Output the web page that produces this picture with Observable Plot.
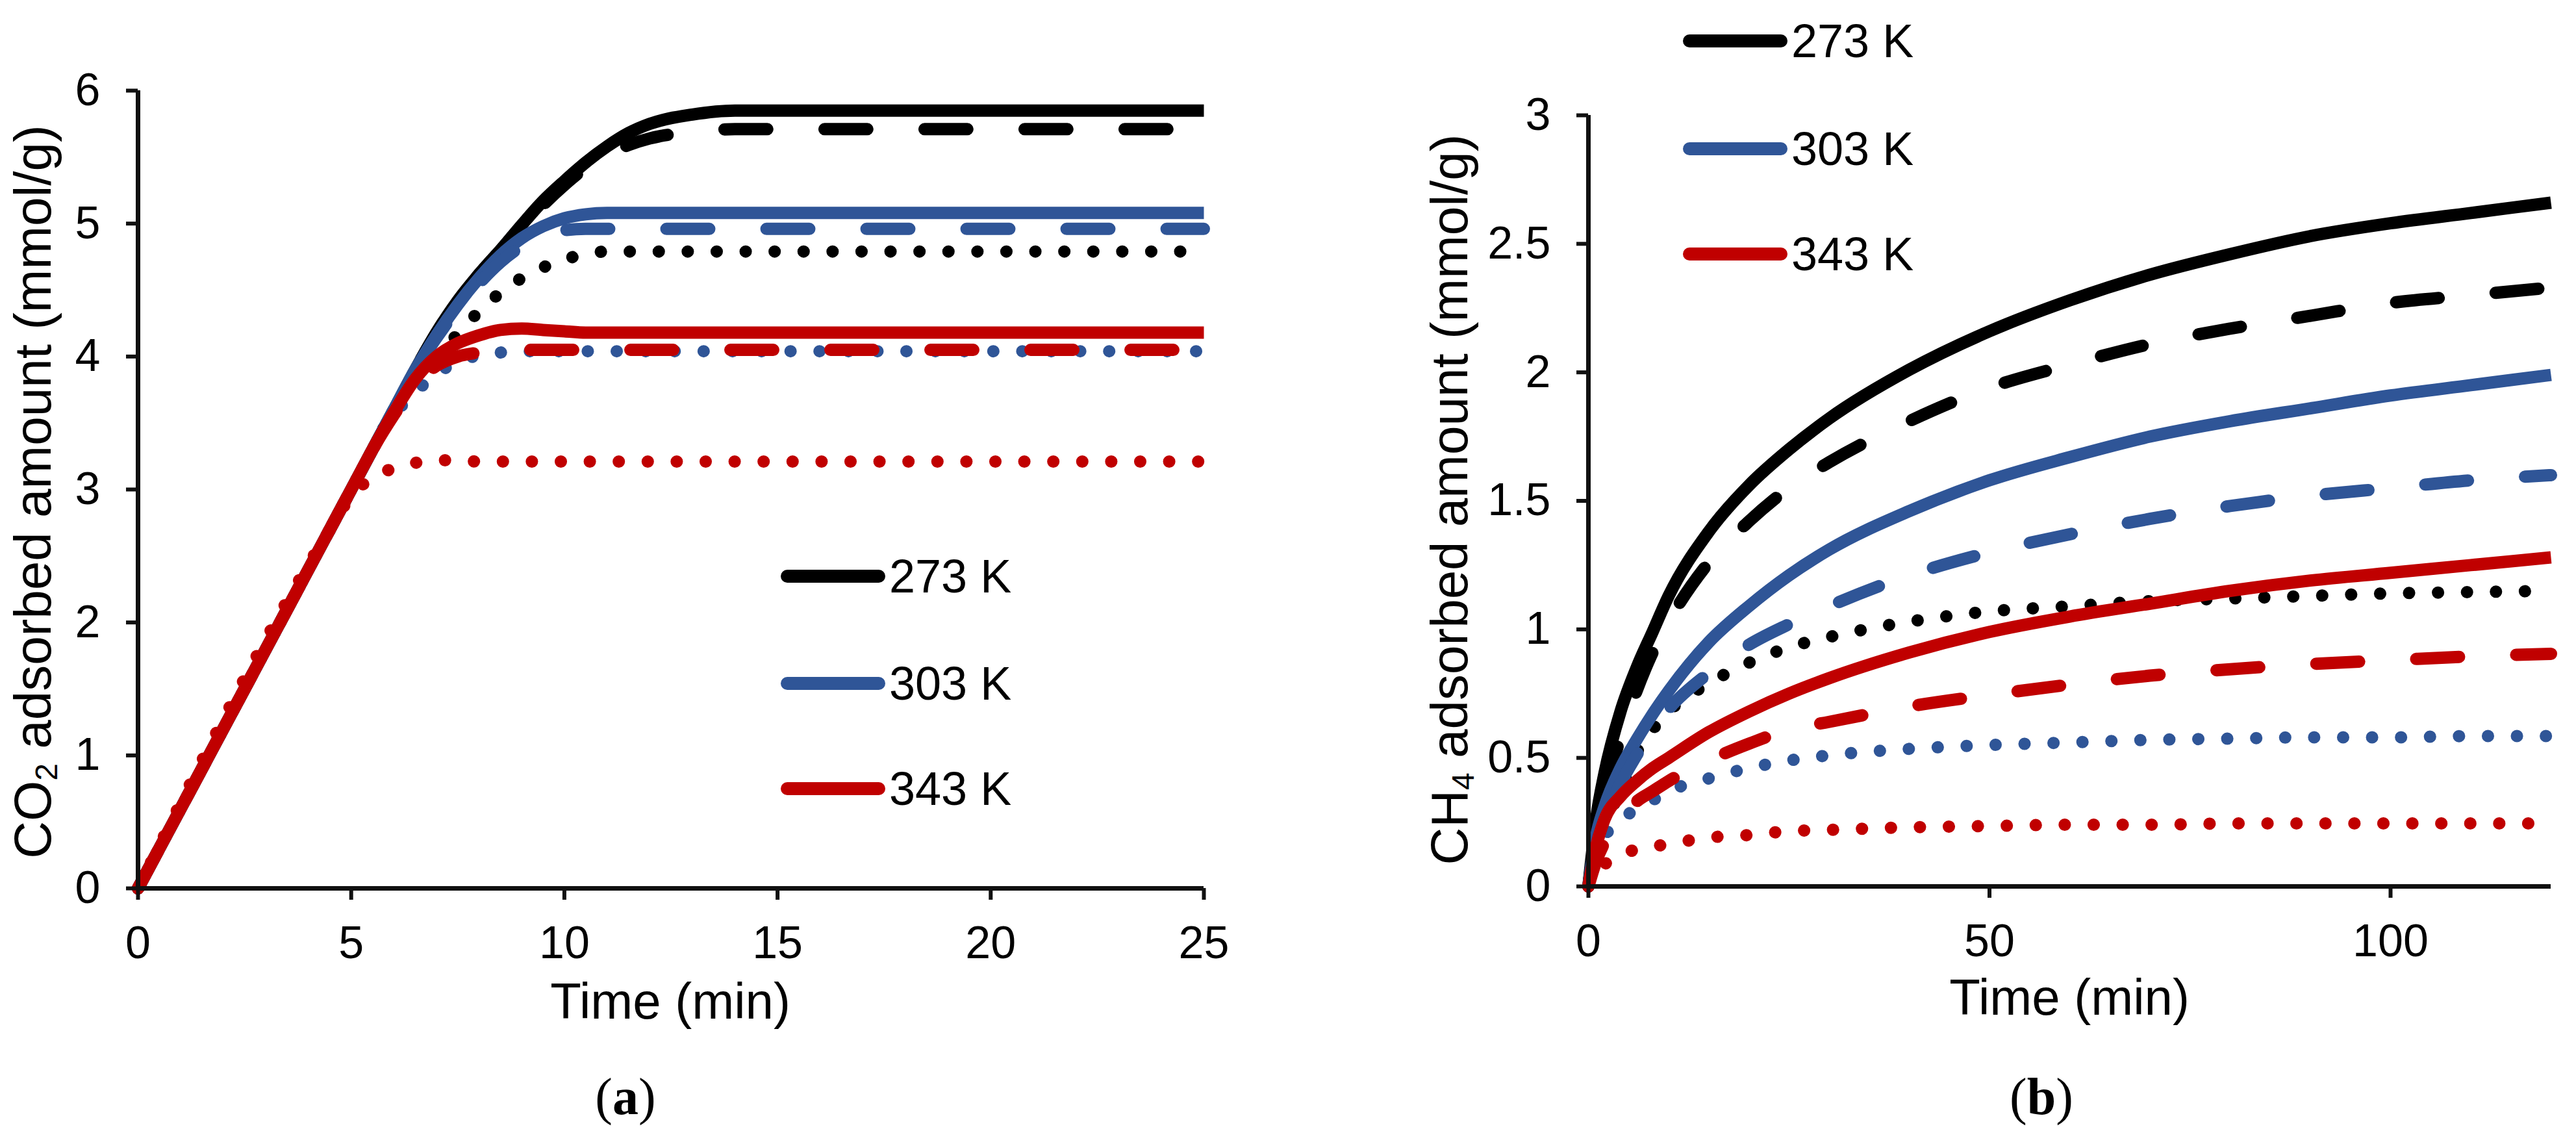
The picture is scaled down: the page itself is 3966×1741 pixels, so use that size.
<!DOCTYPE html>
<html>
<head>
<meta charset="utf-8">
<script src="https://cdn.jsdelivr.net/npm/d3@7"></script>
<script src="https://cdn.jsdelivr.net/npm/@observablehq/plot@0.6"></script>
<style>
  body { margin: 0; background: #fff; }
  #page { position: relative; width: 3966px; height: 1741px; font-family: "Liberation Sans", Arial, sans-serif; color: #000; overflow: hidden; }
  .panel { position: absolute; top: 0; }
  .ylab { position: absolute; font-size: 80px; line-height: 1; white-space: nowrap; transform: translate(-50%, -50%) rotate(-90deg); }
  .ylab sub { font-size: 0.6em; vertical-align: -0.2em; line-height: 0; }
  .xlab { position: absolute; font-size: 78px; line-height: 1; white-space: nowrap; transform: translate(-50%, -50%); }
  .cap { position: absolute; font-family: "Liberation Serif", "DejaVu Serif", serif; font-size: 80px; line-height: 1; transform: translate(-50%, -50%); }
  .leg { position: absolute; display: flex; align-items: center; font-size: 72px; line-height: 1; white-space: nowrap; transform: translateY(-50%); }
  .leg span { margin-left: 6px; }
</style>
</head>
<body>
<div id="page">
  <div class="panel" id="chartA" style="left:0;width:1990px"></div>
  <div class="panel" id="chartB" style="left:2000px;width:1966px"></div>
  <div class="ylab" style="left:51px;top:757px">CO<sub>2</sub> adsorbed amount (mmol/g)</div>
  <div class="ylab" style="left:2232px;top:769px">CH<sub>4</sub> adsorbed amount (mmol/g)</div>
  <div class="xlab" style="left:1032px;top:1541px">Time (min)</div>
  <div class="xlab" style="left:3186px;top:1535px">Time (min)</div>
  <div class="cap" style="left:963px;top:1688px">(<b>a</b>)</div>
  <div class="cap" style="left:3143px;top:1688px">(<b>b</b>)</div>
</div>
<script>
// temperatures, same in both panels
const temps = ["273 K", "303 K", "343 K"];

// (a) CO2 uptake, time in min
const timeCO2 = [0, 4.5, 5, 5.5, 6, 6.5, 7, 7.5, 8, 8.5, 9, 9.5, 10, 10.5, 11, 11.5, 12, 13, 14, 15, 20, 25];
const co2_273_solid  = [0, 2.7, 3.0, 3.3, 3.6, 3.9, 4.18, 4.42, 4.62, 4.8, 4.99, 5.17, 5.32, 5.46, 5.58, 5.68, 5.75, 5.82, 5.85, 5.85, 5.85, 5.85];
const co2_273_dashed = [0, 2.7, 3.0, 3.3, 3.6, 3.9, 4.18, 4.42, 4.62, 4.8, 4.97, 5.14, 5.29, 5.42, 5.52, 5.59, 5.64, 5.69, 5.71, 5.71, 5.71, 5.71];
const co2_273_dotted = [0, 2.7, 3.0, 3.3, 3.6, 3.82, 4.0, 4.17, 4.34, 4.48, 4.59, 4.67, 4.73, 4.77, 4.79, 4.79, 4.79, 4.79, 4.79, 4.79, 4.79, 4.79];
const co2_303_solid  = [0, 2.7, 3.0, 3.3, 3.6, 3.9, 4.16, 4.39, 4.59, 4.76, 4.89, 4.98, 5.04, 5.07, 5.08, 5.08, 5.08, 5.08, 5.08, 5.08, 5.08, 5.08];
const co2_303_dashed = [0, 2.7, 3.0, 3.3, 3.6, 3.9, 4.14, 4.36, 4.55, 4.71, 4.83, 4.91, 4.95, 4.96, 4.96, 4.96, 4.96, 4.96, 4.96, 4.96, 4.96, 4.96];
const co2_303_dotted = [0, 2.7, 3.0, 3.3, 3.56, 3.73, 3.87, 3.96, 4.01, 4.03, 4.04, 4.04, 4.04, 4.04, 4.04, 4.04, 4.04, 4.04, 4.04, 4.04, 4.04, 4.04];
const co2_343_solid  = [0, 2.7, 3.0, 3.3, 3.58, 3.83, 4.0, 4.1, 4.16, 4.2, 4.21, 4.2, 4.19, 4.18, 4.18, 4.18, 4.18, 4.18, 4.18, 4.18, 4.18, 4.18];
const co2_343_dashed = [0, 2.7, 3.0, 3.3, 3.56, 3.79, 3.93, 4.0, 4.03, 4.05, 4.05, 4.05, 4.05, 4.05, 4.05, 4.05, 4.05, 4.05, 4.05, 4.05, 4.05, 4.05];
const co2_343_dotted = [0, 2.7, 2.95, 3.09, 3.16, 3.2, 3.22, 3.22, 3.21, 3.21, 3.21, 3.21, 3.21, 3.21, 3.21, 3.21, 3.21, 3.21, 3.21, 3.21, 3.21, 3.21];

// (b) CH4 uptake
const timeCH4 = [0, 1, 2, 4, 6, 8, 10, 15, 20, 25, 30, 40, 50, 60, 70, 80, 90, 100, 110, 120];
const ch4_273_solid  = [0, 0.27, 0.44, 0.68, 0.85, 0.99, 1.13, 1.38, 1.56, 1.70, 1.82, 2.01, 2.16, 2.28, 2.38, 2.46, 2.53, 2.58, 2.62, 2.66];
const ch4_273_dashed = [0, 0.22, 0.36, 0.58, 0.76, 0.91, 1.03, 1.26, 1.42, 1.55, 1.65, 1.81, 1.94, 2.03, 2.11, 2.17, 2.22, 2.27, 2.30, 2.33];
const ch4_273_dotted = [0, 0.12, 0.22, 0.38, 0.52, 0.61, 0.68, 0.79, 0.87, 0.93, 0.97, 1.03, 1.07, 1.09, 1.11, 1.12, 1.13, 1.14, 1.145, 1.15];
const ch4_303_solid  = [0, 0.2, 0.31, 0.46, 0.57, 0.67, 0.76, 0.95, 1.09, 1.21, 1.31, 1.46, 1.58, 1.67, 1.75, 1.81, 1.86, 1.91, 1.95, 1.99];
const ch4_303_dashed = [0, 0.16, 0.26, 0.40, 0.51, 0.61, 0.69, 0.83, 0.94, 1.02, 1.09, 1.21, 1.30, 1.37, 1.43, 1.48, 1.52, 1.55, 1.58, 1.60];
const ch4_303_dotted = [0, 0.11, 0.19, 0.26, 0.30, 0.335, 0.37, 0.42, 0.46, 0.49, 0.51, 0.535, 0.55, 0.56, 0.57, 0.575, 0.58, 0.58, 0.585, 0.585];
const ch4_343_solid  = [0, 0.16, 0.26, 0.35, 0.41, 0.46, 0.50, 0.60, 0.68, 0.75, 0.81, 0.91, 0.99, 1.05, 1.10, 1.15, 1.19, 1.22, 1.25, 1.28];
const ch4_343_dashed = [0, 0.10, 0.17, 0.26, 0.33, 0.37, 0.41, 0.49, 0.555, 0.61, 0.64, 0.70, 0.745, 0.785, 0.82, 0.845, 0.865, 0.88, 0.895, 0.905];
const ch4_343_dotted = [0, 0.05, 0.085, 0.12, 0.145, 0.155, 0.165, 0.19, 0.20, 0.215, 0.22, 0.23, 0.235, 0.24, 0.24, 0.245, 0.245, 0.245, 0.245, 0.245];

// tick values
const xTicksA = [0, 5, 10, 15, 20, 25];
const yTicksA = [0, 1, 2, 3, 4, 5, 6];
const xTicksB = [0, 50, 100];
const yTicksB = [0, 0.5, 1, 1.5, 2, 2.5, 3];

const color = {"273 K": "#000000", "303 K": "#2F5597", "343 K": "#C00000"};
const dash = {solid: undefined, dashed: "66,88", dotted: "0.1,44.5"};

const co2Series = [
  {temp: "273 K", kind: "solid", values: co2_273_solid},
  {temp: "273 K", kind: "dashed", values: co2_273_dashed},
  {temp: "273 K", kind: "dotted", values: co2_273_dotted},
  {temp: "303 K", kind: "solid", values: co2_303_solid},
  {temp: "303 K", kind: "dashed", values: co2_303_dashed},
  {temp: "303 K", kind: "dotted", values: co2_303_dotted},
  {temp: "343 K", kind: "solid", values: co2_343_solid},
  {temp: "343 K", kind: "dashed", values: co2_343_dashed},
  {temp: "343 K", kind: "dotted", values: co2_343_dotted}
];
const ch4Series = [
  {temp: "273 K", kind: "solid", values: ch4_273_solid},
  {temp: "273 K", kind: "dashed", values: ch4_273_dashed},
  {temp: "273 K", kind: "dotted", values: ch4_273_dotted},
  {temp: "303 K", kind: "solid", values: ch4_303_solid},
  {temp: "303 K", kind: "dashed", values: ch4_303_dashed},
  {temp: "303 K", kind: "dotted", values: ch4_303_dotted},
  {temp: "343 K", kind: "solid", values: ch4_343_solid},
  {temp: "343 K", kind: "dashed", values: ch4_343_dashed},
  {temp: "343 K", kind: "dotted", values: ch4_343_dotted}
];

function lines(time, series) {
  return series.map(s => Plot.line(time.map((t, i) => ({t, v: s.values[i]})), {
    x: "t", y: "v",
    stroke: color[s.temp],
    strokeWidth: 19,
    strokeDasharray: dash[s.kind],
    strokeLinecap: s.kind === "solid" ? "butt" : "round",
    strokeLinejoin: "round",
    curve: "monotone-x"
  }));
}

// plain number labels: 6 not 6.0, 2.5 stays 2.5
const fmt = d => String(d);

function axes(xt, yt) {
  return [
    Plot.ruleY([0], {stroke: "#111", strokeWidth: 7}),
    Plot.ruleX([0], {stroke: "#111", strokeWidth: 7}),
    Plot.axisX(xt, {tickSize: 18, tickPadding: 40, strokeWidth: 6, stroke: "#111", tickFormat: fmt, label: null}),
    Plot.axisY(yt, {tickSize: 18, tickPadding: 40, strokeWidth: 6, stroke: "#111", tickFormat: fmt, label: null})
  ];
}

const style = {fontSize: "70px", fontFamily: "'Liberation Sans', Arial, sans-serif", color: "#000", background: "transparent", overflow: "visible"};

const chartA = Plot.plot({
  width: 1990, height: 1500,
  marginLeft: 212, marginRight: 137, marginTop: 139, marginBottom: 133,
  x: {domain: [0, 25]},
  y: {domain: [0, 6]},
  style,
  marks: [...lines(timeCO2, co2Series), ...axes(xTicksA, yTicksA)]
});
document.getElementById("chartA").append(chartA);

const chartB = Plot.plot({
  width: 1966, height: 1500,
  marginLeft: 445, marginRight: 39, marginTop: 177, marginBottom: 136,
  x: {domain: [0, 120]},
  y: {domain: [0, 3]},
  style,
  marks: [...lines(timeCH4, ch4Series), ...axes(xTicksB, yTicksB)]
});
document.getElementById("chartB").append(chartB);

// legends: one entry per temperature
function legend(left, rowsY) {
  const page = document.getElementById("page");
  temps.forEach((temp, i) => {
    const d = document.createElement("div");
    d.className = "leg";
    d.style.left = left + "px";
    d.style.top = rowsY[i] + "px";
    d.innerHTML = `<svg width="161" height="24"><line x1="10" x2="151" y1="12" y2="12" stroke="${color[temp]}" stroke-width="20" stroke-linecap="round"/></svg><span>${temp}</span>`;
    page.append(d);
  });
}
legend(1202, [887, 1052, 1214]);
legend(2591, [63, 229, 391]);
</script>
</body>
</html>
